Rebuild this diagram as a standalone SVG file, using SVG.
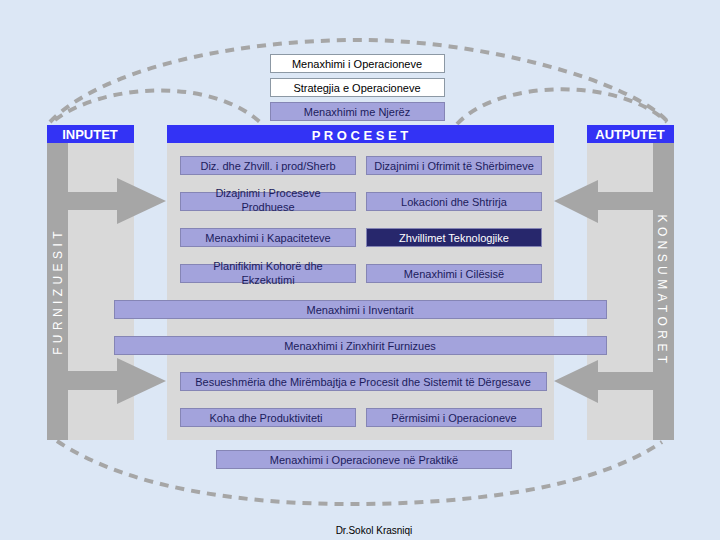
<svg xmlns="http://www.w3.org/2000/svg" width="720" height="540" viewBox="0 0 720 540">
<style>
.bg{fill:#dce7f5}
.panel{fill:#d9d9d9}
.bar{fill:#a6a6a6}
.hdr{fill:#3333f5}
.hdrt{font-family:"Liberation Sans",Arial,sans-serif;font-size:13px;font-weight:bold;fill:#ffffff;text-anchor:middle}
.vt{font-family:"Liberation Sans",Arial,sans-serif;font-size:12px;fill:#ffffff;text-anchor:middle;letter-spacing:4.4px}
.wbox{fill:#ffffff;stroke:#8c98a4;stroke-width:1}
.lbox{fill:#a3a3dc;stroke:#8585b5;stroke-width:1}
.dbox{fill:#27276c;stroke:#8585b5;stroke-width:1}
.t{font-family:"Liberation Sans",Arial,sans-serif;font-size:11px;text-anchor:middle}
.tk{fill:#000000}
.tn{fill:#1c1c5c}
.tw{fill:#ffffff}
.arc{fill:none;stroke:#a6a6a6;stroke-width:4;stroke-dasharray:9 7}
.arrow{fill:#a6a6a6}
</style>
<rect class="bg" x="0" y="0" width="720" height="540"/>

<g id="connectors">
<path class="arc" d="M50 122 C100 70 230 40 360 40 C480 40 630 80 668 122"/>
<path class="arc" d="M55 120 C100 85 210 75 262 124"/>
<path class="arc" d="M457 124 C500 78 620 78 667 122"/>
<path class="arc" d="M57 441 C130 490 250 505 360 504 C470 503 590 490 662 442"/>
</g>

<g id="inputet">
<rect class="panel" x="47" y="143" width="87" height="297"/>
<rect class="bar" x="47" y="143" width="21" height="297"/>
<rect class="hdr" x="47" y="125" width="87" height="18"/>
<text class="hdrt" x="90" y="139">INPUTET</text>
<text class="vt" transform="translate(62,291) rotate(-90)">FURNIZUESIT</text>
</g>

<g id="proceset">
<rect class="panel" x="167" y="143" width="387" height="297"/>
<rect class="hdr" x="167" y="125" width="387" height="18"/>
<text class="hdrt" x="360" y="140">P R O C E S E T</text>
</g>

<g id="autputet">
<rect class="panel" x="587" y="143" width="87" height="297"/>
<rect class="bar" x="653" y="143" width="21" height="297"/>
<rect class="hdr" x="587" y="125" width="87" height="18"/>
<text class="hdrt" x="630" y="139">AUTPUTET</text>
<text class="vt" transform="translate(658,291) rotate(90)">KONSUMATORET</text>
</g>

<g id="arrows">
<polygon class="arrow" points="68,192 117,192 117,178 166,201 117,224 117,210 68,210"/>
<polygon class="arrow" points="68,371 117,371 117,358 166,381 117,404 117,390 68,390"/>
<polygon class="arrow" points="653,192 598,192 598,180 554,201 598,223 598,210 653,210"/>
<polygon class="arrow" points="653,372 598,372 598,360 554,381 598,403 598,390 653,390"/>
</g>

<g id="top1"><rect class="wbox" x="270.5" y="54.5" width="174" height="18"/><text class="t tk" x="357" y="67.5">Menaxhimi i Operacioneve</text></g>
<g id="top2"><rect class="wbox" x="270.5" y="78.5" width="174" height="18"/><text class="t tk" x="357" y="91.5">Strategjia e Operacioneve</text></g>
<g id="top3"><rect class="lbox" x="270.5" y="102.5" width="174" height="18"/><text class="t tn" x="357" y="115.5">Menaxhimi me Njerëz</text></g>

<g id="p1"><rect class="lbox" x="180.5" y="156.5" width="175" height="18"/><text class="t tn" x="268" y="169.5">Diz. dhe Zhvill. i prod/Sherb</text></g>
<g id="p2"><rect class="lbox" x="366.5" y="156.5" width="175" height="18"/><text class="t tn" x="454" y="169.5">Dizajnimi i Ofrimit të Shërbimeve</text></g>
<g id="p3"><rect class="lbox" x="180.5" y="192.5" width="175" height="18"/><text class="t tn" x="268" y="197">Dizajnimi i Proceseve</text><text class="t tn" x="268" y="211">Prodhuese</text></g>
<g id="p4"><rect class="lbox" x="366.5" y="192.5" width="175" height="18"/><text class="t tn" x="454" y="205.5">Lokacioni dhe Shtrirja</text></g>
<g id="p5"><rect class="lbox" x="180.5" y="228.5" width="175" height="18"/><text class="t tn" x="268" y="241.5">Menaxhimi i Kapaciteteve</text></g>
<g id="p6"><rect class="dbox" x="366.5" y="228.5" width="175" height="18"/><text class="t tw" x="454" y="241.5">Zhvillimet Teknologjike</text></g>
<g id="p7"><rect class="lbox" x="180.5" y="264.5" width="175" height="18"/><text class="t tn" x="268" y="270">Planifikimi Kohorë dhe</text><text class="t tn" x="268" y="284">Ekzekutimi</text></g>
<g id="p8"><rect class="lbox" x="366.5" y="264.5" width="175" height="18"/><text class="t tn" x="454" y="277.5">Menaxhimi i Cilësisë</text></g>
<g id="p9"><rect class="lbox" x="114.5" y="300.5" width="492" height="18"/><text class="t tn" x="360" y="313.5">Menaxhimi i Inventarit</text></g>
<g id="p10"><rect class="lbox" x="114.5" y="336.5" width="492" height="18"/><text class="t tn" x="360" y="349.5">Menaxhimi i Zinxhirit Furnizues</text></g>
<g id="p11"><rect class="lbox" x="180.5" y="372.5" width="366" height="18"/><text class="t tn" x="363" y="385.5">Besueshmëria dhe Mirëmbajtja e Procesit dhe Sistemit të Dërgesave</text></g>
<g id="p12"><rect class="lbox" x="180.5" y="408.5" width="175" height="18"/><text class="t tn" x="266" y="421.5">Koha dhe Produktiviteti</text></g>
<g id="p13"><rect class="lbox" x="366.5" y="408.5" width="175" height="18"/><text class="t tn" x="454" y="421.5">Përmisimi i Operacioneve</text></g>
<g id="bottom"><rect class="lbox" x="216.5" y="450.5" width="295" height="18"/><text class="t tn" x="364" y="463.5">Menaxhimi i Operacioneve në Praktikë</text></g>

<text x="374" y="534" font-family="'Liberation Sans',Arial,sans-serif" font-size="10" fill="#000000" text-anchor="middle">Dr.Sokol Krasniqi</text>
</svg>
